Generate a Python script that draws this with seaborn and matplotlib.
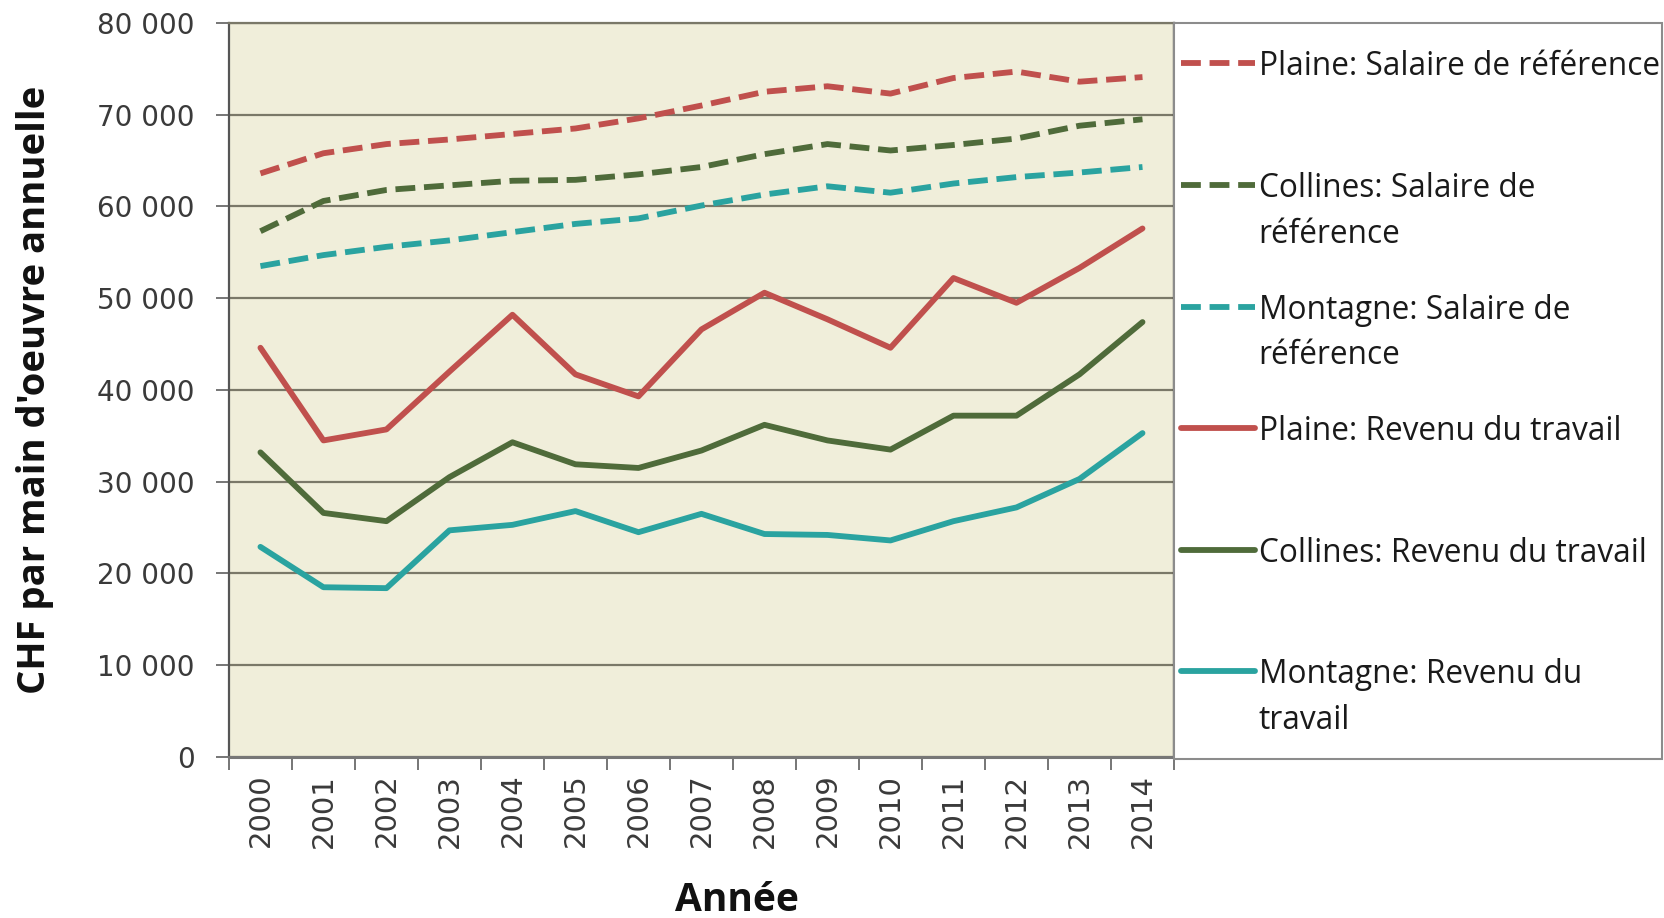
import numpy as np
import pandas as pd
import matplotlib
matplotlib.use("Agg")
import matplotlib.pyplot as plt
import matplotlib.ticker as mticker
from matplotlib.patches import Rectangle
import seaborn as sns

# ---------------- data ----------------
years = list(range(2000, 2015))
year_labels = [str(y) for y in years]

plaine_salaire = [63600, 65800, 66800, 67300, 67900, 68500, 69600, 71000, 72500, 73100, 72300, 74000, 74700, 73600, 74100]
collines_salaire = [57300, 60600, 61800, 62300, 62800, 62900, 63500, 64300, 65700, 66800, 66100, 66700, 67400, 68800, 69500]
montagne_salaire = [53500, 54700, 55600, 56300, 57200, 58100, 58700, 60100, 61300, 62200, 61500, 62500, 63200, 63700, 64300]
plaine_revenu = [44600, 34500, 35700, 42000, 48200, 41700, 39300, 46600, 50600, 47700, 44600, 52200, 49500, 53300, 57600]
collines_revenu = [33200, 26600, 25700, 30500, 34300, 31900, 31500, 33400, 36200, 34500, 33500, 37200, 37200, 41700, 47400]
montagne_revenu = [22900, 18500, 18400, 24700, 25300, 26800, 24500, 26500, 24300, 24200, 23600, 25700, 27200, 30300, 35300]

series_names = [
    "Plaine: Salaire de référence",
    "Collines: Salaire de référence",
    "Montagne: Salaire de référence",
    "Plaine: Revenu du travail",
    "Collines: Revenu du travail",
    "Montagne: Revenu du travail",
]
legend_labels = [
    "Plaine: Salaire de référence",
    "Collines: Salaire de\nréférence",
    "Montagne: Salaire de\nréférence",
    "Plaine: Revenu du travail",
    "Collines: Revenu du travail",
    "Montagne: Revenu du\ntravail",
]
series_values = [plaine_salaire, collines_salaire, montagne_salaire,
                 plaine_revenu, collines_revenu, montagne_revenu]

y_ticks = [0, 10000, 20000, 30000, 40000, 50000, 60000, 70000, 80000]
x_label = "Année"
y_label = "CHF par main d'oeuvre annuelle"

# ---------------- styles ----------------
RED = "#C0504D"
GREEN = "#4F6B3A"
TEAL = "#2AA3A0"
palette = dict(zip(series_names, [RED, GREEN, TEAL, RED, GREEN, TEAL]))
dash = (3.4, 1.5)
dashes = dict(zip(series_names, [dash, dash, dash, "", "", ""]))

df = pd.DataFrame({
    "year": np.tile(years, len(series_names)),
    "value": np.concatenate(series_values),
    "series": np.repeat(series_names, len(years)),
})

sns.set_style("white")
plt.rcParams["font.family"] = ["DejaVu Sans"]

fig = plt.figure(figsize=(16.65, 9.18), dpi=100)
fig.patch.set_facecolor("white")
ax = fig.add_axes([0.1375, 0.1754, 0.5676, 0.7996])
ax.set_facecolor("#F0EEDA")

sns.lineplot(data=df, x="year", y="value", hue="series", style="series",
             hue_order=series_names, style_order=series_names,
             palette=palette, dashes=dashes, linewidth=4.2, legend=False, ax=ax)
for ln in ax.get_lines():
    ln.set_solid_joinstyle("round")
    ln.set_dash_capstyle("butt")

ax.set_xlim(years[0] - 0.5, years[-1] + 0.5)
ax.set_ylim(0, 80000)

# y axis
ax.set_yticks(y_ticks)
ax.yaxis.set_major_formatter(mticker.FuncFormatter(lambda v, _: f"{int(v):,}".replace(",", " ")))
ax.tick_params(axis="y", which="major", direction="out", length=9.5, width=1.3,
               color="#6b6b6b", pad=15, labelsize=20, labelcolor="#3a3a3a", left=True)
ax.yaxis.grid(True, color="#7a7868", linewidth=1.6)
ax.set_axisbelow(True)

# x axis: boundary ticks + centered labels
ax.set_xticks(np.arange(years[0] - 0.5, years[-1] + 1.0, 1.0))
ax.set_xticklabels([])
ax.set_xticks(years, minor=True)
ax.set_xticklabels(year_labels, minor=True, rotation=90)
ax.tick_params(axis="x", which="major", direction="out", length=9.5, width=1.3,
               color="#6b6b6b", bottom=True)
ax.tick_params(axis="x", which="minor", length=0, pad=12, labelsize=21,
               labelcolor="#3a3a3a", bottom=True)

for side, col, lw in [("left", "#555555", 1.6), ("bottom", "#777777", 2.2),
                      ("top", "#7a7868", 1.6), ("right", "#111111", 1.6)]:
    ax.spines[side].set_visible(True)
    ax.spines[side].set_color(col)
    ax.spines[side].set_linewidth(lw)

ax.set_xlabel(x_label, fontsize=28, fontweight="bold", family=["Open Sans", "DejaVu Sans"], color="#111111")
ax.set_ylabel(y_label, fontsize=27.5, fontweight="bold", family=["Open Sans", "DejaVu Sans"], color="#111111")
ax.xaxis.set_label_coords(0.5376, -0.195)
ax.xaxis.label.set_va("center")
ax.yaxis.set_label_coords(-0.205, 0.5)
ax.yaxis.label.set_va("center")

# legend frame
fig.patches.append(Rectangle((0.7051, 0.1732), 0.2931, 0.8017, transform=fig.transFigure,
                             facecolor="white", edgecolor="#8c8c8c", linewidth=1.5, zorder=0))

handles = ax.get_lines()[:len(series_names)]
padded = [lab if "\n" in lab else lab + "\n" for lab in legend_labels]
leg = fig.legend(handles, padded, loc="upper left", bbox_to_anchor=(0.7093, 0.945),
                 frameon=False, handlelength=2.35, handletextpad=0.1,
                 labelspacing=1.36, borderaxespad=0, borderpad=0, handleheight=1.1,
                 prop={"family": ["Open Sans", "DejaVu Sans"], "size": 22.8})
for t in leg.get_texts():
    t.set_linespacing(1.5)
    t.set_color("#1a1a1a")
for col in leg._legend_handle_box.get_children():
    for row in col.get_children():
        row.align = "top"

fig.savefig("out.png", dpi=100)
